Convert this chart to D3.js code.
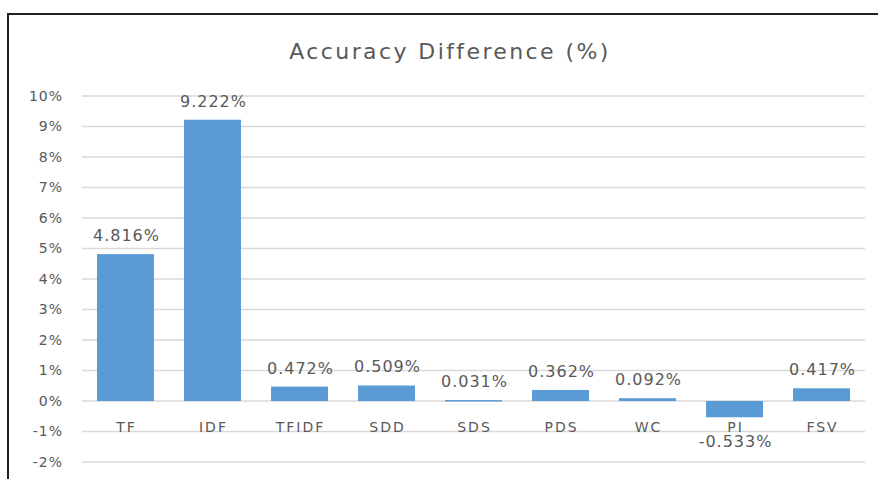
<!DOCTYPE html>
<html>
<head>
<meta charset="utf-8">
<script src="https://cdn.jsdelivr.net/npm/d3@7"></script>
<style>
  body { margin: 0; background: #fff; }
  svg { display: block; }
</style>
</head>
<body>
<div id="chart"></div>
<script>
// data
const categories = ["TF", "IDF", "TFIDF", "SDD", "SDS", "PDS", "WC", "PI", "FSV"];
const values = [4.816, 9.222, 0.472, 0.509, 0.031, 0.362, 0.092, -0.533, 0.417];
const yTicks = [-2, -1, 0, 1, 2, 3, 4, 5, 6, 7, 8, 9, 10];

const width = 878;
const height = 479;
const margin = { top: 96, right: 13, bottom: 17, left: 82 };
const boundedWidth = width - margin.left - margin.right;
const boundedHeight = height - margin.top - margin.bottom;

const textColor = "#595959";
const fontFamily = "'DejaVu Sans', sans-serif";

const svg = d3.select("#chart")
  .append("svg")
    .attr("width", width)
    .attr("height", height);

// frame (only top and left edges show)
svg.append("path")
  .attr("d", `M8,${height} L8,14 L${width},14`)
  .attr("fill", "none")
  .attr("stroke", "#222")
  .attr("stroke-width", 2);

svg.append("text")
  .attr("x", 450)
  .attr("y", 59)
  .attr("text-anchor", "middle")
  .attr("fill", textColor)
  .style("font-family", fontFamily)
  .style("font-size", "22px")
  .style("letter-spacing", "2.4px")
  .text("Accuracy Difference (%)");

const bounds = svg.append("g")
  .attr("transform", `translate(${margin.left},${margin.top})`);

const xScale = d3.scaleBand()
  .domain(categories)
  .range([0, boundedWidth])
  .paddingInner(0.345)
  .paddingOuter(0.172);

const yScale = d3.scaleLinear()
  .domain([-2, 10])
  .range([boundedHeight, 0]);

// gridlines
bounds.append("g")
  .selectAll("line")
  .data(yTicks)
  .join("line")
    .attr("x1", 0)
    .attr("x2", boundedWidth)
    .attr("y1", d => yScale(d))
    .attr("y2", d => yScale(d))
    .attr("stroke", "#d9d9d9")
    .attr("stroke-width", 1.5);

// y axis labels
const yAxis = d3.axisLeft(yScale)
  .tickValues(yTicks)
  .tickSize(0)
  .tickPadding(19)
  .tickFormat(d => d + "%");

bounds.append("g")
  .call(yAxis)
  .call(g => g.select(".domain").remove())
  .call(g => g.selectAll("text")
    .attr("fill", textColor)
    .style("font-family", fontFamily)
    .style("font-size", "14px")
    .style("letter-spacing", "1px"));

// bars
bounds.append("g")
  .selectAll("rect")
  .data(values)
  .join("rect")
    .attr("x", (d, i) => xScale(categories[i]))
    .attr("width", xScale.bandwidth())
    .attr("y", d => yScale(Math.max(d, 0)))
    .attr("height", d => Math.max(Math.abs(yScale(d) - yScale(0)), 1.5))
    .attr("fill", "#5b9bd5");

// category labels
bounds.append("g")
  .selectAll("text")
  .data(categories)
  .join("text")
    .attr("x", d => xScale(d) + xScale.bandwidth() / 2 + 1)
    .attr("y", yScale(0) + 31)
    .attr("text-anchor", "middle")
    .attr("fill", textColor)
    .style("font-family", fontFamily)
    .style("font-size", "14px")
    .style("letter-spacing", "2px")
    .text(d => d);

// value labels
bounds.append("g")
  .selectAll("text")
  .data(values)
  .join("text")
    .attr("x", (d, i) => xScale(categories[i]) + xScale.bandwidth() / 2 + 1)
    .attr("y", d => d >= 0 ? yScale(d) - 13 : yScale(d) + 30)
    .attr("text-anchor", "middle")
    .attr("fill", textColor)
    .style("font-family", fontFamily)
    .style("font-size", "16px")
    .style("letter-spacing", "1px")
    .text(d => d.toFixed(3) + "%");
</script>
</body>
</html>
